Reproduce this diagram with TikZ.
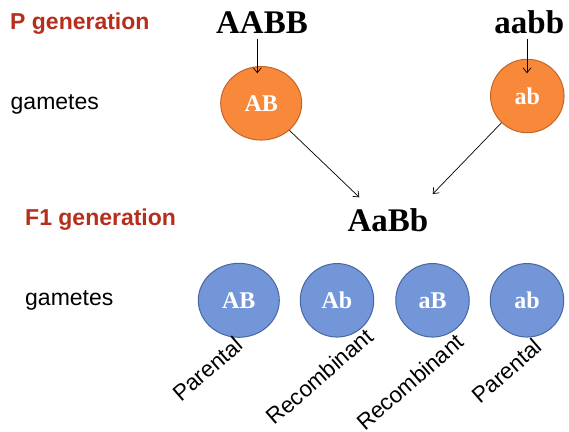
\documentclass[tikz,border=0pt]{standalone}
\usepackage{fontspec}
\usetikzlibrary{shapes.geometric,arrows.meta}
\newfontfamily\arialf{Liberation Sans}
\newfontfamily\timesf{Liberation Serif}
\definecolor{genred}{RGB}{183,46,28}
\definecolor{orfill}{RGB}{249,137,58}
\definecolor{ordraw}{RGB}{196,100,40}
\definecolor{blfill}{RGB}{115,150,217}
\definecolor{bldraw}{RGB}{72,102,162}
\begin{document}
\begin{tikzpicture}[x=1pt,y=-1pt,
  redlbl/.style={anchor=base west, inner sep=0pt, text=genred, font=\arialf\bfseries\fontsize{23}{27}\selectfont},
  plainlbl/.style={anchor=base west, inner sep=0pt, font=\arialf\fontsize{23}{27}\selectfont},
  geno/.style={anchor=base, inner sep=0pt, font=\timesf\bfseries\fontsize{33}{38}\selectfont},
  gamtxt/.style={text=white, inner sep=0pt, font=\timesf\bfseries\fontsize{24}{28}\selectfont},
  orell/.style={gamtxt, ellipse, fill=orfill, draw=ordraw, line width=1pt, minimum width=81pt, minimum height=73.5pt},
  orcirc/.style={gamtxt, circle, fill=orfill, draw=ordraw, line width=1pt, minimum size=73.5pt},
  blell/.style={gamtxt, ellipse, fill=blfill, draw=bldraw, line width=1pt, minimum width=81pt, minimum height=74pt},
  blcirc/.style={gamtxt, circle, fill=blfill, draw=bldraw, line width=1pt, minimum size=73.5pt},
  rotlbl/.style={inner sep=0pt, rotate=41, font=\arialf\fontsize{22.5}{26}\selectfont},
  arr/.style={-{Straight Barb[length=5pt,width=8pt]}, line width=0.7pt, black}
]
\useasboundingbox (0,0) rectangle (569,431);

% left labels
\node[redlbl] (pgen) at (10,29.3) {P generation};
\node[plainlbl] (gam1) at (10.5,109.3) {gametes};
\node[redlbl] (fgen) at (25,225.7) {F1 generation};
\node[plainlbl] (gam2) at (25,305) {gametes};

% genotypes
\node[geno] (AABB) at (262,33.3) {AABB};
\node[geno] (aabb) at (529.3,33.3) {aabb};
\node[geno] (AaBb) at (388,231.7) {AaBb};

% P gametes
\node[orell] (oAB) at (261.2,103.3) {AB};
\node[orcirc] (oab) at (527.3,96) {ab};

% arrow end points
\coordinate (t1) at (257.3,73.3);
\coordinate (t2) at (527,73.3);
\coordinate (tL) at (359.3,197.3);
\coordinate (tR) at (432.7,194);

\draw[arr, shorten <=5pt] (AABB.south -| t1) -- (t1);
\draw[arr, shorten <=5pt] (aabb.south -| t2) -- (t2);
\draw[arr] (oAB) -- (tL);
\draw[arr] (oab) -- (tR);

% F1 gametes
\node[blell] (bAB) at (238.8,300.3) {AB};
\node[blcirc] (bAb) at (337,300.3) {Ab};
\node[blcirc] (baB) at (432.5,300.3) {aB};
\node[blcirc] (bab) at (527,300.3) {ab};

% rotated labels
\node[rotlbl] (l1) at (207.5,369) {Parental};
\node[rotlbl] (l2) at (319.7,376.3) {Recombinant};
\node[rotlbl] (l3) at (410,382) {Recombinant};
\node[rotlbl] (l4) at (506.7,370.8) {Parental};
\end{tikzpicture}
\end{document}
